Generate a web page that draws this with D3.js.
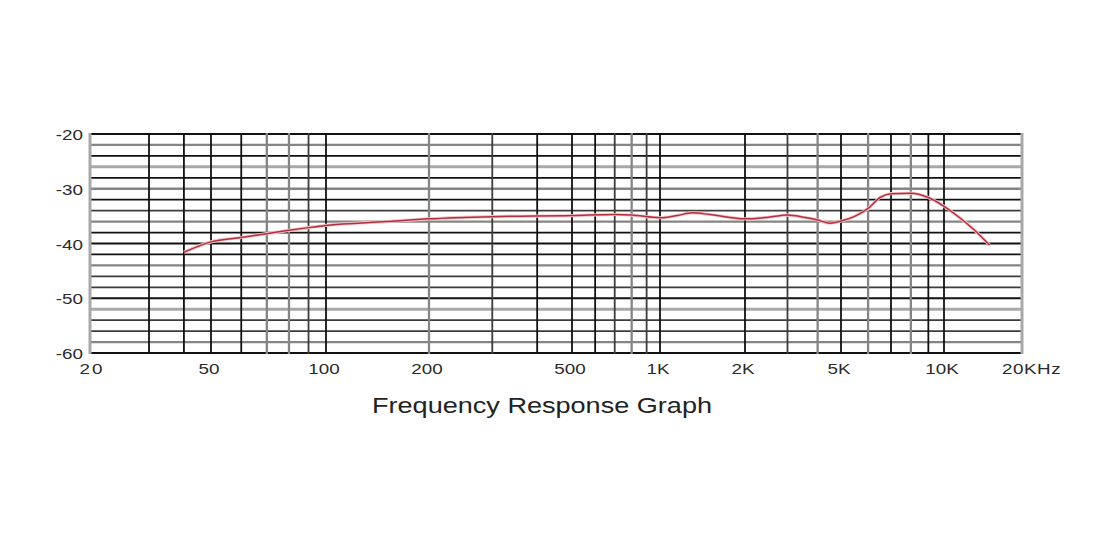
<!DOCTYPE html>
<html><head><meta charset="utf-8">
<script src="https://cdn.jsdelivr.net/npm/d3@7"></script>
<style>html,body{margin:0;padding:0;background:#fff;}svg{display:block;}</style>
</head><body>
<svg id="c" width="1100" height="540"></svg>
<script>
// ---- data ----
const freqs = [40,50,60,70,80,90,100,150,200,300,500,700,800,1000,1150,1300,1500,2000,2500,3000,3500,4000,4500,5000,5500,6000,6500,7000,8000,9000,10000,11500,13000,15000];
const levels = [-41.6,-39.7,-38.9,-38.2,-37.6,-37.1,-36.7,-36.0,-35.5,-35.1,-34.9,-34.7,-34.8,-35.3,-34.9,-34.4,-34.7,-35.5,-35.2,-34.8,-35.2,-35.7,-36.3,-35.9,-35.0,-33.6,-31.6,-30.9,-30.8,-31.6,-33.2,-35.3,-37.4,-40.3];
const xTickValues = [20,50,100,200,500,1000,2000,5000,10000,20000];
const xTickLabels = ["20","50","100","200","500","1K","2K","5K","10K","20KHz"];
const yTickValues = [-20,-30,-40,-50,-60];
const yTickLabels = ["-20","-30","-40","-50","-60"];
const vGridFreqs = [20,30,40,50,60,70,80,90,100,200,300,400,500,600,700,800,900,1000,2000,3000,4000,5000,6000,7000,8000,9000,10000,20000];
const hGridLevels = d3.range(-20,-61,-2);
const title = "Frequency Response Graph";

// ---- styles (separate from data) ----
const vTones = ["l","k","k","k","k","g","g","d","k","g","d","k","k","k","d","g","d","k","k","d","g","k","g","k","g","k","k","l"];
const hTones = ["k","g","k","l","k","g","k","d","g","k","k","k","g","d","d","k","l","d","d","g","k"];
const toneStyle = {k:["#111",1.8],d:["#3c3c3c",1.8],g:["#858585",2.3],l:["#a8a8a8",3]};

const svg = d3.select("#c");
// calibrated (hand-drawn) log frequency axis
const x = d3.scaleLog()
  .domain([20,30,50,100,200,500,1000,2000,5000,10000,20000])
  .range([90,149,211,326,429,572,660,745,841,944,1022]);
const y = d3.scaleLinear().domain([-20,-60]).range([134,353]);

const grid = svg.append("g");
grid.selectAll("line.h").data(hGridLevels).join("line")
  .attr("x1",x(20)).attr("x2",x(20000))
  .attr("y1",d=>y(d)).attr("y2",d=>y(d))
  .attr("stroke",(d,i)=>toneStyle[hTones[i]][0])
  .attr("stroke-width",(d,i)=>toneStyle[hTones[i]][1]);
grid.selectAll("line.v").data(vGridFreqs).join("line")
  .attr("x1",d=>x(d)).attr("x2",d=>x(d))
  .attr("y1",y(-20)-1).attr("y2",y(-60)+1)
  .attr("stroke",(d,i)=>toneStyle[vTones[i]][0])
  .attr("stroke-width",(d,i)=>toneStyle[vTones[i]][1]);

// curve
const pts = freqs.map((f,i)=>[f,levels[i]]);
const line = d3.line().x(d=>x(d[0])).y(d=>y(d[1])).curve(d3.curveMonotoneX);
svg.append("path").datum(pts).attr("d",line)
  .attr("fill","none").attr("stroke","#f2c4c8").attr("stroke-width",3.2);
svg.append("path").datum(pts).attr("d",line)
  .attr("fill","none").attr("stroke","#b3303e").attr("stroke-width",1.5);

// y labels
const font = "Liberation Sans, Arial, sans-serif";
svg.append("g").selectAll("g").data(yTickValues).join("g")
  .attr("transform",d=>`translate(83,${y(d)+6}) scale(1.3,1)`)
  .append("text").text((d,i)=>yTickLabels[i])
  .attr("text-anchor","end").attr("font-family",font).attr("font-size",14.5).attr("fill","#2b2b2b");

// x labels
svg.append("g").selectAll("g").data(xTickValues).join("g")
  .attr("transform",(d,i)=> i===xTickValues.length-1 ? `translate(${x(d)-20},374) scale(1.3,1)` : (i===0 ? `translate(${x(d)+2},374) scale(1.3,1)` : `translate(${x(d)-2},374) scale(1.3,1)`))
  .append("text").text((d,i)=>xTickLabels[i])
  .attr("text-anchor",(d,i)=> i===xTickValues.length-1 ? "start":"middle")
  .attr("letter-spacing",(d,i)=> i===0 ? 1.5 : (i===xTickValues.length-1 ? 0.4 : 0))
  .attr("font-family",font).attr("font-size",14.5).attr("fill","#2b2b2b");

// title
svg.append("text").text(title)
  .attr("x",372).attr("y",413)
  .attr("textLength",340).attr("lengthAdjust","spacingAndGlyphs")
  .attr("font-family",font).attr("font-size",22.5).attr("fill","#222");
</script>
</body></html>
